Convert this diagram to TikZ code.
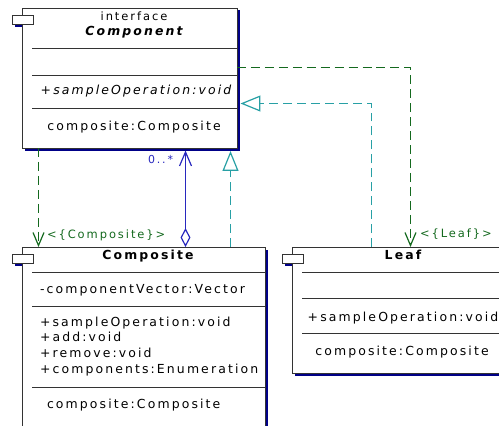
\documentclass[tikz,border=0pt]{standalone}
\usepackage{fontspec}
\setmainfont{DejaVu Sans}[LetterSpace=17]
\usetikzlibrary{arrows.meta,calc,shadows}

\definecolor{umlgreen}{RGB}{20,105,30}
\definecolor{umlteal}{RGB}{40,160,165}
\definecolor{umlblue}{RGB}{40,40,190}
\definecolor{umlnavy}{RGB}{0,0,135}

\begin{document}
\begin{tikzpicture}[x=1bp,y=-1bp,
  every node/.style={font=\fontsize{12.5}{14}\selectfont,inner sep=0pt,outer sep=0pt},
  classbox/.style={draw=black!80,fill=white,line width=0.9pt,anchor=north west,
    drop shadow={shadow xshift=3pt,shadow yshift=-2.5pt,fill=umlnavy,opacity=1}},
  classtab/.style={draw=black!80,fill=white,line width=0.9pt,anchor=north west,
    minimum width=21bp,minimum height=9bp},
  sepline/.style={black!80,line width=0.9pt},
  depend/.style={umlgreen,line width=1.2bp,dash pattern=on 9pt off 5pt,
    -{Straight Barb[length=13pt,width=11pt]}},
  realize/.style={umlteal,line width=1.2bp,dash pattern=on 9pt off 5pt,
    -{Triangle[open,length=20pt,width=16pt]}},
  assoc/.style={umlblue,line width=1.2bp,
    {Diamond[open,length=19pt,width=10pt]}-{Straight Barb[length=14pt,width=12pt]}}]
\clip (0,0) rectangle (499,425);

% tab shadows sit behind the boxes
\fill[umlnavy] (15,17) rectangle (24,26.5);
\fill[umlnavy] (15,256) rectangle (24,265.5);
\fill[umlnavy] (285,256) rectangle (294,265.5);

\node[classbox,minimum width=215bp,minimum height=140bp] (comp) at (22,8) {};
\node[classbox,minimum width=243bp,minimum height=200bp] (compo) at (22,247) {};
\node[classbox,minimum width=222bp,minimum height=126bp] (leaf) at (292,247) {};

\node[classtab] (compTab) at (12,15) {};
\node[classtab] (compoTab) at (12,254) {};
\node[classtab] (leafTab) at (282,254) {};

% compartments
\foreach \dy in {40,67,100}
  \draw[sepline] ($(comp.north west)+(10,\dy)$) -- ($(comp.north east)+(0,\dy)$);
\foreach \dy in {25,59,140}
  \draw[sepline] ($(compo.north west)+(10,\dy)$) -- ($(compo.north east)+(0,\dy)$);
\foreach \dy in {25,51,86}
  \draw[sepline] ($(leaf.north west)+(10,\dy)$) -- ($(leaf.north east)+(0,\dy)$);

% Component
\node[anchor=base,font=\fontsize{11.5}{14}\selectfont] (compKind) at (134,20) {interface};
\node[anchor=base,font=\fontsize{12.5}{14}\selectfont\bfseries\itshape] (compName) at (134,35) {Component};
\node[anchor=base,font=\fontsize{12.5}{14}\selectfont\itshape] (compOp) at (136,94) {+sampleOperation:void};
\node[anchor=base] (compField) at (134,130) {composite:Composite};

% Composite
\node[anchor=base,font=\fontsize{12.5}{14}\selectfont\bfseries] (compoName) at (148,259) {Composite};
\node[anchor=base west] (compoVec) at (40,293) {-componentVector:Vector};
\foreach \op [count=\i] in {+sampleOperation:void,+add:void,+remove:void,+components:Enumeration}
  \node[anchor=base west] (compoOp\i) at (40,{310.3+15.7*\i}) {\op};
\node[anchor=base west] (compoField) at (47,408) {composite:Composite};

% Leaf
\node[anchor=base,font=\fontsize{12.5}{14}\selectfont\bfseries] (leafName) at (403,259) {Leaf};
\node[anchor=base] (leafOp) at (403,321) {+sampleOperation:void};
\node[anchor=base] (leafField) at (402,355) {composite:Composite};

% connector labels
\node[anchor=base west,text=umlgreen,font=\fontsize{11.5}{13}\selectfont] (compoTag) at (47,238) {<\{Composite\}>};
\node[anchor=base west,text=umlgreen,font=\fontsize{11.5}{13}\selectfont] (leafTag) at (420,237) {<\{Leaf\}>};
\node[anchor=base west,text=umlblue,font=\fontsize{11}{13}\selectfont] (multTag) at (148,163) {0..*};

% half-pixel positions keep the thin connectors crisp
\coordinate (depX) at (38.5,0);
\coordinate (assocX) at (185.5,0);
\coordinate (realX) at (230.5,0);
\coordinate (leafBend) at (410.5,67.5);
\coordinate (leafTurn) at (371.5,103.5);

\draw[depend] (comp.south -| depX) -- (compo.north -| depX);
\draw[assoc,shorten >=2.5pt] (compo.north -| assocX) -- (comp.south -| assocX);
\draw[realize,shorten >=3pt] (compo.north -| realX) -- (comp.south -| realX);
\draw[depend] (comp.east |- leafBend) -- (leafBend) -- (leaf.north -| leafBend);
\draw[realize,shorten >=3.5pt] (leaf.north -| leafTurn) -- (leafTurn) -- (comp.east |- leafTurn);
\end{tikzpicture}
\end{document}
